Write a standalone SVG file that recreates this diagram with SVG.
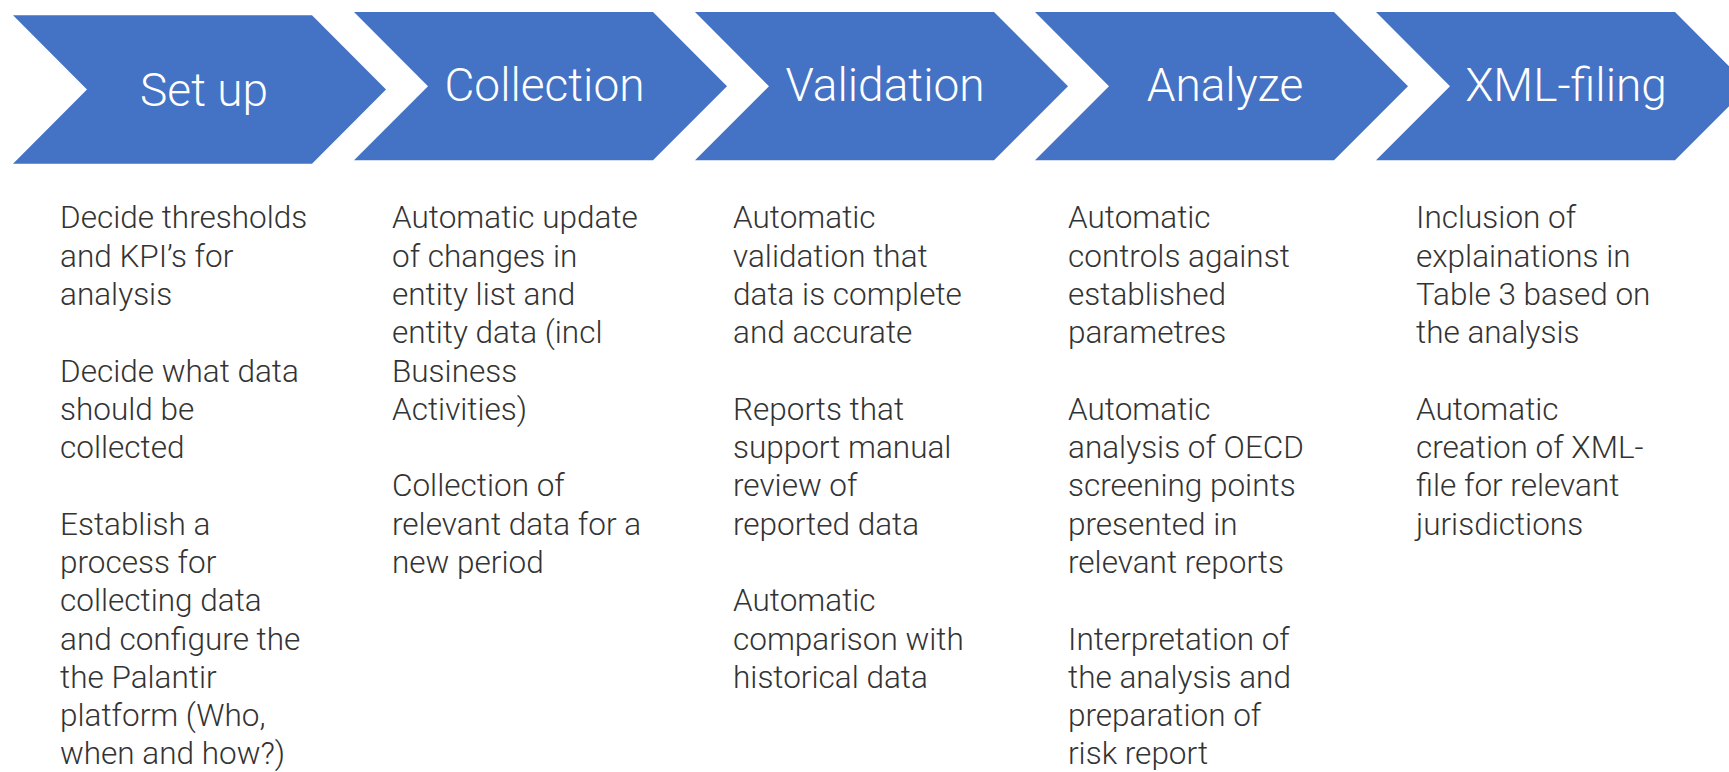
<svg xmlns="http://www.w3.org/2000/svg" width="1729" height="772" viewBox="0 0 1729 772">
<style>
.chev{fill:#4472C4}
.head{font-family:"Roboto Light",Roboto,"Liberation Sans",sans-serif;font-weight:300;font-size:46px;fill:#FFFFFF;text-anchor:middle}
.body{font-family:"Roboto Light",Roboto,"Liberation Sans",sans-serif;font-weight:300;font-size:31.5px;fill:#333333}
</style>
<rect width="1729" height="772" fill="#FFFFFF"/>
<g id="setup">
<polygon class="chev" points="13,15.3 312,15.3 386,89.5 312,163.7 13,163.7 87,89.5"/>
<text class="head" x="204" y="106">Set up</text>
<text class="body" x="60" y="228.3">
<tspan x="60" dy="0">Decide thresholds</tspan>
<tspan x="60" dy="38.3">and KPI’s for</tspan>
<tspan x="60" dy="38.3">analysis</tspan>
<tspan x="60" dy="76.6">Decide what data</tspan>
<tspan x="60" dy="38.3">should be</tspan>
<tspan x="60" dy="38.3">collected</tspan>
<tspan x="60" dy="76.6">Establish a</tspan>
<tspan x="60" dy="38.3">process for</tspan>
<tspan x="60" dy="38.3">collecting data</tspan>
<tspan x="60" dy="38.3">and configure the</tspan>
<tspan x="60" dy="38.3">the Palantir</tspan>
<tspan x="60" dy="38.3">platform (Who,</tspan>
<tspan x="60" dy="38.3">when and how?)</tspan>
</text>
</g>
<g id="collection">
<polygon class="chev" points="354,12 653,12 727,86.2 653,160.3 354,160.3 428,86.2"/>
<text class="head" x="544.5" y="101">Collection</text>
<text class="body" x="392" y="228.3">
<tspan x="392" dy="0">Automatic update</tspan>
<tspan x="392" dy="38.3">of changes in</tspan>
<tspan x="392" dy="38.3">entity list and</tspan>
<tspan x="392" dy="38.3">entity data (incl</tspan>
<tspan x="392" dy="38.3">Business</tspan>
<tspan x="392" dy="38.3">Activities)</tspan>
<tspan x="392" dy="76.6">Collection of</tspan>
<tspan x="392" dy="38.3">relevant data for a</tspan>
<tspan x="392" dy="38.3">new period</tspan>
</text>
</g>
<g id="validation">
<polygon class="chev" points="695,12 994,12 1068,86.2 994,160.3 695,160.3 769,86.2"/>
<text class="head" x="885" y="101">Validation</text>
<text class="body" x="733" y="228.3">
<tspan x="733" dy="0">Automatic</tspan>
<tspan x="733" dy="38.3">validation that</tspan>
<tspan x="733" dy="38.3">data is complete</tspan>
<tspan x="733" dy="38.3">and accurate</tspan>
<tspan x="733" dy="76.6">Reports that</tspan>
<tspan x="733" dy="38.3">support manual</tspan>
<tspan x="733" dy="38.3">review of</tspan>
<tspan x="733" dy="38.3">reported data</tspan>
<tspan x="733" dy="76.6">Automatic</tspan>
<tspan x="733" dy="38.3">comparison with</tspan>
<tspan x="733" dy="38.3">historical data</tspan>
</text>
</g>
<g id="analyze">
<polygon class="chev" points="1035,12 1334,12 1408,86.2 1334,160.3 1035,160.3 1109,86.2"/>
<text class="head" x="1225" y="101">Analyze</text>
<text class="body" x="1068" y="228.3">
<tspan x="1068" dy="0">Automatic</tspan>
<tspan x="1068" dy="38.3">controls against</tspan>
<tspan x="1068" dy="38.3">established</tspan>
<tspan x="1068" dy="38.3">parametres</tspan>
<tspan x="1068" dy="76.6">Automatic</tspan>
<tspan x="1068" dy="38.3">analysis of OECD</tspan>
<tspan x="1068" dy="38.3">screening points</tspan>
<tspan x="1068" dy="38.3">presented in</tspan>
<tspan x="1068" dy="38.3">relevant reports</tspan>
<tspan x="1068" dy="76.6">Interpretation of</tspan>
<tspan x="1068" dy="38.3">the analysis and</tspan>
<tspan x="1068" dy="38.3">preparation of</tspan>
<tspan x="1068" dy="38.3">risk report</tspan>
</text>
</g>
<g id="xmlfiling">
<polygon class="chev" points="1376,12 1675,12 1749,86.2 1675,160.3 1376,160.3 1450,86.2"/>
<text class="head" x="1566" y="101">XML-filing</text>
<text class="body" x="1416" y="228.3">
<tspan x="1416" dy="0">Inclusion of</tspan>
<tspan x="1416" dy="38.3">explainations in</tspan>
<tspan x="1416" dy="38.3">Table 3 based on</tspan>
<tspan x="1416" dy="38.3">the analysis</tspan>
<tspan x="1416" dy="76.6">Automatic</tspan>
<tspan x="1416" dy="38.3">creation of XML-</tspan>
<tspan x="1416" dy="38.3">file for relevant</tspan>
<tspan x="1416" dy="38.3">jurisdictions</tspan>
</text>
</g>
<g id="connectors"/>
</svg>
